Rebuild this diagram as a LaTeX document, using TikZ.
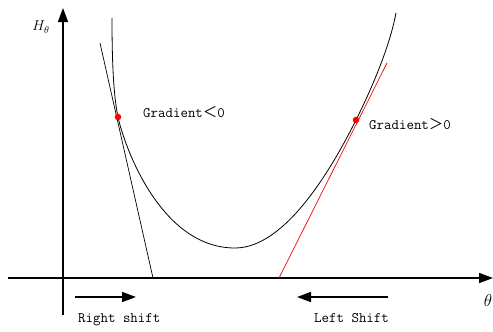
\documentclass[tikz,border=0pt]{standalone}
\usepackage{fontspec}
\newfontfamily\cjkfont{Noto Sans CJK SC}
\usetikzlibrary{arrows.meta}
\tikzset{
  axis/.style={line width=1.6pt,-{Triangle[length=14pt,width=10pt]}},
  shiftarrow/.style={line width=1.6pt,-{Triangle[length=14pt,width=10pt]}},
  curvelabel/.style={font=\ttfamily\fontsize{14.5}{16}\selectfont,anchor=west,inner sep=0pt},
  touchdot/.style={circle,fill=red,inner sep=0pt,minimum size=6.5pt}
}
\begin{document}
\begin{tikzpicture}[x=1pt,y=-1pt]
    \useasboundingbox (0,0) rectangle (493,332);
    % axes
    \coordinate (xstart) at (8,278);
    \coordinate (xend) at (493,278);
    \coordinate (ystart) at (63,315);
    \coordinate (yend) at (63,8);
    \draw [axis] (xstart) -- (xend);
    \draw [axis] (ystart) -- (yend);
    \node (hlabel) at (41,27) {\fontsize{14}{16}\selectfont$H_\theta$};
    \node (tlabel) at (488,300) {\fontsize{17}{18}\selectfont$\theta$};
    % points of contact
    \coordinate (pleft) at (118,117);
    \coordinate (pright) at (356,120);
    \coordinate (bottom) at (235,248);
    % the curve
    \draw [line width=0.8pt] (112,18) .. controls (112,50) and (112.7,92) .. (pleft)
        .. controls (124,145) and (160,248) .. (bottom)
        .. controls (285,248) and (331,170) .. (pright)
        .. controls (377,78) and (391,40) .. (396,13);
    % tangents
    \coordinate (tlefttop) at (100,43);
    \coordinate (tleftfoot) at (153,278);
    \coordinate (trighttop) at (387,63);
    \coordinate (trightfoot) at (279,278);
    \draw [line width=0.7pt] (tlefttop) -- (tleftfoot);
    \draw [line width=0.7pt,red] (trightfoot) -- (trighttop);
    \node [touchdot] (dleft) at (pleft) {};
    \node [touchdot] (dright) at (pright) {};
    \node [curvelabel] (gneg) at (143,112) {Gradient{\cjkfont ＜}0};
    \node [curvelabel] (gpos) at (369,124) {Gradient{\cjkfont ＞}0};
    % shift directions
    \coordinate (rsa) at (75,297);
    \coordinate (rsb) at (136,297);
    \coordinate (lsa) at (388,297);
    \coordinate (lsb) at (297,297);
    \draw [shiftarrow] (rsa) -- (rsb);
    \draw [shiftarrow] (lsa) -- (lsb);
    \node [curvelabel] (rlabel) at (78,320) {Right shift};
    \node [curvelabel] (llabel) at (314,318) {Left Shift};
\end{tikzpicture}
\end{document}
